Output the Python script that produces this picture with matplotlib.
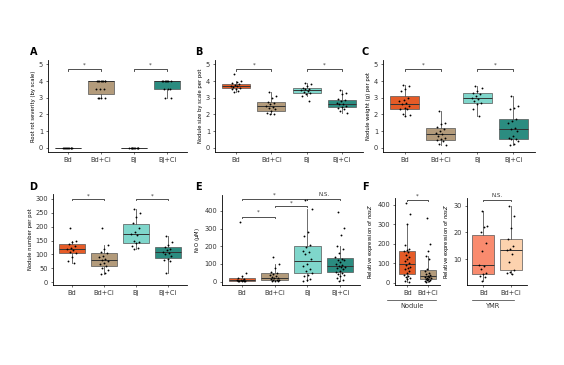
import numpy as np
import matplotlib
matplotlib.use('Agg')
import matplotlib.pyplot as plt

W, H = 564, 365

groups = ['Bd', 'Bd+Ci', 'Bj', 'Bj+Ci']
colors = ['#E55B27', '#B39B7B', '#7FD6CB', '#2B8C80']
f_colors = ['#F98B6E', '#FCD2AE']

# A: root rot severity
rot_bd = [0] * 10
rot_bdci = [3, 3, 3, 3, 3.5, 3.5, 3.5, 4, 4, 4, 4, 4, 4, 4, 4]
rot_bj = [0] * 10
rot_bjci = [3, 3, 3.5, 3.5, 3.5, 4, 4, 4, 4, 4, 4, 4]

# B: nodule size
size_bd = [4.4, 4.0, 3.95, 3.85, 3.8, 3.75, 3.7, 3.7, 3.65, 3.6, 3.55, 3.5, 3.4, 3.35]
size_bdci = [3.35, 3.1, 3.0, 2.75, 2.7, 2.6, 2.5, 2.45, 2.4, 2.3, 2.2, 2.1, 2.05, 2.0]
size_bj = [3.85, 3.8, 3.7, 3.6, 3.55, 3.5, 3.45, 3.4, 3.35, 3.3, 3.25, 3.1, 2.8]
size_bjci = [3.45, 3.3, 3.2, 2.9, 2.85, 2.8, 2.7, 2.65, 2.6, 2.5, 2.45, 2.4, 2.3, 2.2, 2.1]

# C: nodule weight
wt_bd = [3.75, 3.7, 3.5, 3.4, 3.0, 2.85, 2.8, 2.7, 2.6, 2.5, 2.4, 2.35, 2.3, 2.0, 1.95, 1.9]
wt_bdci = [2.2, 1.5, 1.4, 1.25, 1.1, 1.0, 0.9, 0.8, 0.7, 0.6, 0.5, 0.45, 0.4, 0.2, 0.15]
wt_bj = [3.7, 3.6, 3.4, 3.3, 3.25, 3.1, 3.0, 2.9, 2.8, 2.7, 2.6, 2.3, 1.9]
wt_bjci = [3.1, 2.5, 2.4, 2.3, 1.7, 1.6, 1.5, 1.2, 1.1, 1.0, 0.7, 0.6, 0.55, 0.5, 0.4, 0.2, 0.15]

# D: nodule number
num_bd = [195, 150, 145, 138, 132, 125, 120, 115, 110, 105, 90, 75, 70]
num_bdci = [195, 135, 120, 110, 105, 95, 90, 85, 80, 75, 70, 65, 60, 50, 45, 35, 30]
num_bj = [265, 250, 235, 215, 195, 180, 175, 170, 150, 145, 140, 130, 125, 120]
num_bjci = [165, 145, 135, 128, 120, 115, 110, 105, 100, 95, 85, 80, 75, 35]

# E: N2O
n2o_bd = [340, 50, 30, 20, 15, 12, 10, 8, 6, 5, 3, 2, 1]
n2o_bdci = [140, 100, 75, 55, 50, 45, 40, 30, 25, 20, 18, 15, 12, 10, 8, 5, 4, 2]
n2o_bj = [460, 410, 280, 260, 210, 195, 175, 165, 155, 130, 100, 90, 70, 60, 50, 35, 30,
          15, 10, 5]
n2o_bjci = [395, 305, 265, 200, 185, 160, 140, 130, 125, 120, 110, 100, 95, 90, 85, 80,
            75, 70, 60, 55, 50, 45, 40, 30, 20, 10, 5]

# F: nosZ expression
nod_bd = [410, 355, 300, 195, 175, 170, 165, 160, 140, 130, 120, 110, 100, 90, 80, 75,
          70, 60, 50, 40, 35, 30, 25, 20, 10, 5]
nod_bdci = [330, 200, 165, 135, 120, 70, 60, 50, 45, 40, 35, 30, 28, 25, 22, 20, 18, 15,
            12, 10, 8, 5]
ymr_bd = [28, 22.5, 22, 20, 16, 13, 8, 7.5, 6.5, 5, 4.5, 4, 3.5, 2]
ymr_bdci = [30, 26, 21.5, 17.5, 15, 14, 13.5, 12, 9, 6, 5.5, 5, 4.5]

fig = plt.figure(figsize=(W / 100, H / 100), dpi=100)
fig.patch.set_facecolor('white')


def make_ax(l, r, t, b):
    return fig.add_axes([l / W, 1 - b / H, (r - l) / W, (b - t) / H])


def jitter(n, spread=0.3):
    return ((np.arange(n) * 0.618034 + 0.3) % 1 - 0.5) * spread


def box_panel(ax, data, cols, labels, ylim, yticks, ylabel, width=0.8):
    pos = np.arange(1, len(data) + 1)
    bp = ax.boxplot(data, positions=pos, widths=width, patch_artist=True,
                    showfliers=False, whis=1.5, zorder=2,
                    medianprops=dict(color='#333333', linewidth=0.7),
                    whiskerprops=dict(color='#555555', linewidth=0.6),
                    capprops=dict(linewidth=0),
                    boxprops=dict(linewidth=0.5))
    for patch, c in zip(bp['boxes'], cols):
        patch.set_facecolor(c)
        patch.set_edgecolor('#555555')
    for i, d in enumerate(data):
        ax.scatter(pos[i] + jitter(len(d)), d, s=1.8, color='black', zorder=3,
                   linewidths=0)
    ax.set_xlim(0.4, len(data) + 0.6)
    ax.set_ylim(*ylim)
    ax.set_yticks(yticks)
    ax.set_xticks(pos)
    ax.set_xticklabels(labels)
    ax.tick_params(labelsize=4.8, length=1.5, width=0.5, colors='#333333', pad=2)
    for s in ['top', 'right']:
        ax.spines[s].set_visible(False)
    for s in ['left', 'bottom']:
        ax.spines[s].set_linewidth(0.6)
    ax.set_ylabel(ylabel, fontsize=3.8, labelpad=2)


def bracket(ax, x1, x2, y, h, text, ty, color='#333333'):
    ax.plot([x1, x1, x2, x2], [y - h, y, y, y - h], color=color, lw=0.6,
            clip_on=False, zorder=4)
    ax.text((x1 + x2) / 2, ty, text, ha='center', va='center', fontsize=4,
            color='#333333', clip_on=False)


# A
ax = make_ax(48, 187, 60, 152)
box_panel(ax, [rot_bd, rot_bdci, rot_bj, rot_bjci], colors, groups,
          (-0.26, 5.26), range(6), 'Root rot severity (by scale)')
bracket(ax, 1, 2, 4.7, 0.08, '*', 4.95)
bracket(ax, 3, 4, 4.7, 0.08, '*', 4.95)

# B
ax = make_ax(215, 363, 60, 152)
box_panel(ax, [size_bd, size_bdci, size_bj, size_bjci], colors, groups,
          (-0.26, 5.26), range(6), 'Nodule size by scale per pot')
bracket(ax, 1, 2, 4.7, 0.08, '*', 4.95)
bracket(ax, 3, 4, 4.7, 0.08, '*', 4.95)

# C
ax = make_ax(383, 535, 60, 152)
box_panel(ax, [wt_bd, wt_bdci, wt_bj, wt_bjci], colors, groups,
          (-0.26, 5.26), range(6), 'Nodule weight (g) per pot')
bracket(ax, 1, 2, 4.7, 0.08, '*', 4.95)
bracket(ax, 3, 4, 4.7, 0.08, '*', 4.95)

# D
ax = make_ax(53, 187, 194, 285)
box_panel(ax, [num_bd, num_bdci, num_bj, num_bjci], colors, groups,
          (-10, 318), range(0, 301, 50), 'Nodule number per pot')
bracket(ax, 1, 2, 300, 5, '*', 312)
bracket(ax, 3, 4, 300, 5, '*', 312)

# E
ax = make_ax(222, 360, 195, 285)
box_panel(ax, [n2o_bd, n2o_bdci, n2o_bj, n2o_bjci], colors, groups,
          (-19, 490), range(0, 401, 100), 'N$_2$O (μM)')
bracket(ax, 1, 2, 367, 8, '*', 392)
bracket(ax, 2, 3, 430, 8, '*', 447)
bracket(ax, 1, 3, 467, 8, '*', 488)
bracket(ax, 3, 4, 467, 8, 'N.S.', 492)

# F left
ax = make_ax(395, 440, 198, 285)
box_panel(ax, [nod_bd, nod_bdci], colors[:2], ['Bd', 'Bd+Ci'],
          (-12, 435), range(0, 401, 100), 'Relative expression of $\\it{nosZ}$')
bracket(ax, 1, 2, 427, 6, '*', 443)

# F right
ax = make_ax(467, 527, 198, 285)
box_panel(ax, [ymr_bd, ymr_bdci], f_colors, ['Bd', 'Bd+Ci'],
          (0.5, 32.8), [10, 20, 30], 'Relative expression of $\\it{nosZ}$')
bracket(ax, 1, 2, 32.2, 0.5, 'N.S.', 33.8)

# group labels below F
fig.add_artist(plt.Line2D([387 / W, 436 / W], [1 - 300 / H, 1 - 300 / H],
                          color='#333333', lw=0.5))
fig.add_artist(plt.Line2D([472 / W, 514 / W], [1 - 300 / H, 1 - 300 / H],
                          color='#333333', lw=0.5))
fig.text(412 / W, 1 - 306 / H, 'Nodule', ha='center', va='center', fontsize=4.8,
         color='#333333')
fig.text(493 / W, 1 - 306 / H, 'YMR', ha='center', va='center', fontsize=4.8,
         color='#333333')

# panel letters
for lab, x, y in [('A', 34, 52), ('B', 199, 52), ('C', 365, 52),
                  ('D', 33, 187), ('E', 198, 187), ('F', 365, 187)]:
    fig.text(x / W, 1 - y / H, lab, ha='center', va='center', fontsize=7,
             fontweight='bold')

fig.savefig('out.png', dpi=100, facecolor='white')
